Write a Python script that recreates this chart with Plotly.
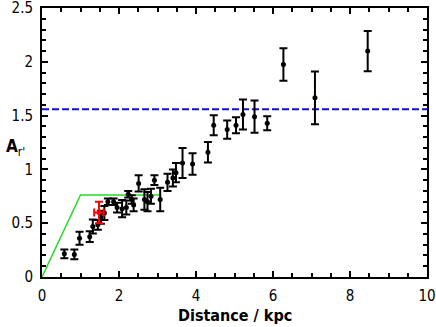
import plotly.graph_objects as go

# Black data points: distance (kpc), extinction A_r', error
dist = [0.58, 0.84, 0.975, 1.24, 1.32, 1.45, 1.53, 1.62, 1.71, 1.86, 1.95, 2.08, 2.19,
        2.24, 2.33, 2.38, 2.51, 2.66, 2.74, 2.83, 2.92, 3.07, 3.26, 3.40, 3.48, 3.65,
        3.91, 4.31, 4.46, 4.81, 5.04, 5.22, 5.52, 5.85, 6.27, 7.09, 8.46]
ext = [0.215, 0.21, 0.36, 0.375, 0.47, 0.485, 0.555, 0.595, 0.70, 0.70, 0.645, 0.635, 0.645,
       0.77, 0.72, 0.67, 0.87, 0.72, 0.70, 0.75, 0.90, 0.72, 0.88, 0.92, 0.97, 1.06,
       1.05, 1.16, 1.41, 1.37, 1.41, 1.51, 1.49, 1.43, 1.975, 1.665, 2.10]
ext_err = [0.04, 0.045, 0.06, 0.05, 0.065, 0.045, 0.06, 0.065, 0.03, 0.03, 0.045, 0.08, 0.065,
           0.03, 0.04, 0.06, 0.075, 0.095, 0.09, 0.07, 0.045, 0.11, 0.08, 0.08, 0.09, 0.14,
           0.10, 0.095, 0.093, 0.085, 0.075, 0.14, 0.15, 0.065, 0.15, 0.245, 0.187]

# Red point
red_x = [1.48]
red_y = [0.60]
red_xerr = [0.125]
red_yerr = [0.10]

# Green model line
green_x = [0.0, 1.0, 3.1]
green_y = [0.0, 0.763, 0.763]

# Blue dashed asymptote
blue_level = 1.56
x_range = [0, 10]
y_range = [0, 2.5]

tick_font = dict(family="DejaVu Sans Condensed, DejaVu Sans, sans-serif", size=15, color="black")

fig = go.Figure()
fig.add_trace(go.Scatter(x=x_range, y=[blue_level, blue_level], mode="lines",
                         line=dict(color="#1010d0", width=2, dash="7px,3px"), showlegend=False))
fig.add_trace(go.Scatter(x=green_x, y=green_y, mode="lines",
                         line=dict(color="#22dd22", width=1.5), showlegend=False))
fig.add_trace(go.Scatter(x=dist, y=ext, mode="markers",
                         marker=dict(color="black", size=5),
                         error_y=dict(type="data", array=ext_err, color="black", thickness=2, width=4),
                         showlegend=False))
fig.add_trace(go.Scatter(x=red_x, y=red_y, mode="markers",
                         marker=dict(color="red", size=5),
                         error_y=dict(type="data", array=red_yerr, color="red", thickness=2, width=4),
                         error_x=dict(type="data", array=red_xerr, color="red", thickness=2, width=4),
                         showlegend=False))

axis_common = dict(showline=True, linewidth=2, linecolor="black", mirror="allticks",
                   ticks="inside", ticklen=6, tickwidth=1.5, tickcolor="black",
                   showgrid=False, zeroline=False, tickfont=tick_font, automargin=False,
                   ticklabeloverflow="allow")

fig.update_xaxes(range=x_range, dtick=2, tick0=0, ticklabelstandoff=4,
                 minor=dict(dtick=0.5, ticks="inside", ticklen=4, tickwidth=1.5, tickcolor="black"),
                 **axis_common)
fig.update_yaxes(range=y_range, dtick=0.5, tick0=0, ticklabelstandoff=4,
                 minor=dict(dtick=0.1, ticks="inside", ticklen=4, tickwidth=1.5, tickcolor="black"),
                 **axis_common)

fig.add_annotation(text="<b>Distance / kpc</b>", xref="paper", yref="paper", x=0.5, y=-0.142,
                   xanchor="center", yanchor="middle", showarrow=False,
                   font=dict(family="DejaVu Sans Condensed, DejaVu Sans, sans-serif", size=16, color="black"))
fig.add_annotation(text="<b>A</b><sub>r'</sub>", xref="paper", yref="y", x=-0.1, y=1.2,
                   xanchor="left", yanchor="middle", showarrow=False,
                   font=dict(family="DejaVu Sans Condensed, DejaVu Sans, sans-serif", size=17, color="black"))

fig.update_layout(width=436, height=327, margin=dict(l=42, r=9, t=8, b=50),
                  plot_bgcolor="white", paper_bgcolor="white")

fig.write_html("out.html", config={"displayModeBar": False},
               post_script="document.body.style.margin='0';document.body.style.overflow='hidden';")
